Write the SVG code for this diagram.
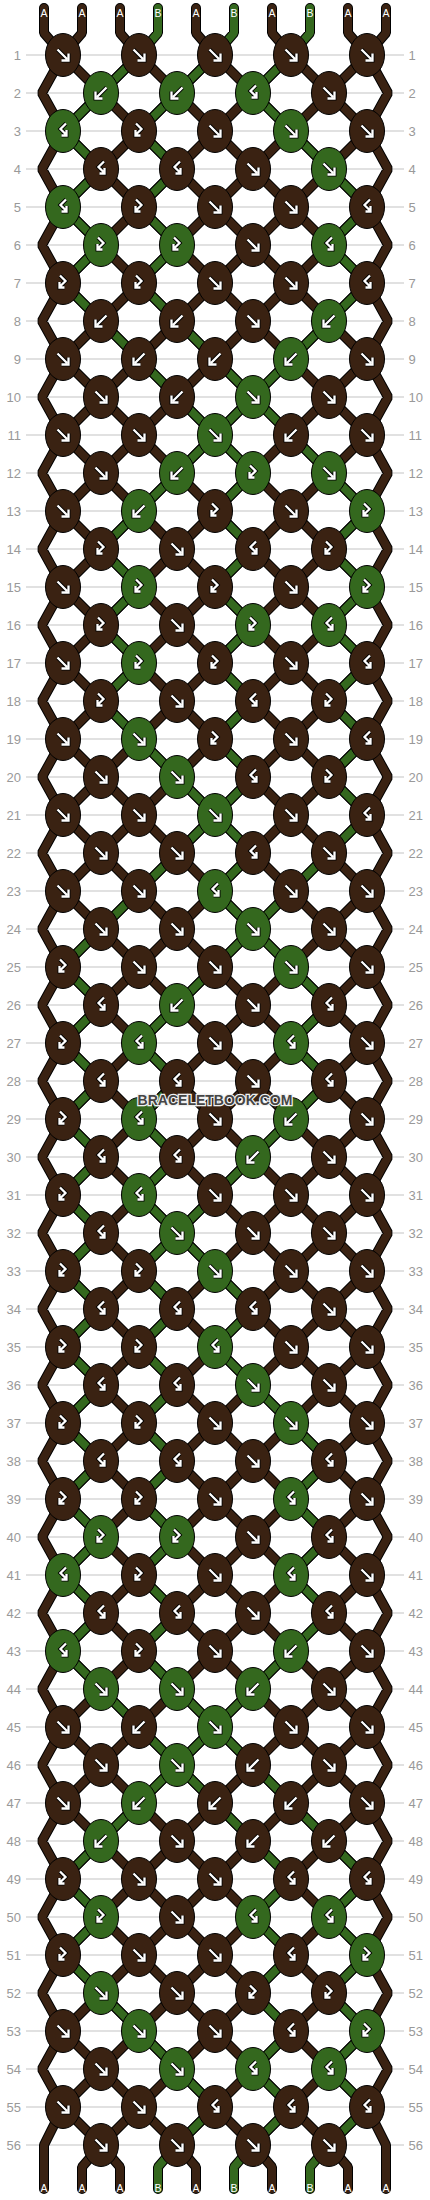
<svg xmlns="http://www.w3.org/2000/svg" width="430" height="2200" viewBox="0 0 430 2200">
<style>
.o{fill:none;stroke:#000;stroke-width:10;stroke-linejoin:bevel}
.a{fill:none;stroke:#3a2212;stroke-width:8;stroke-linejoin:bevel}
.g{fill:none;stroke:#34681e;stroke-width:8;stroke-linejoin:bevel}
.rc{stroke-linecap:round}
.ka{fill:#3a2212;stroke:#000;stroke-width:1}
.kb{fill:#34681e;stroke:#000;stroke-width:1}
.ao{fill:none;stroke:#000;stroke-width:4}
.ai{fill:none;stroke:#fff;stroke-width:2.3}
.rl{fill:none;stroke:#c4c4c4;stroke-width:1.2}
.nl,.nr{font-family:"Liberation Sans",Arial,sans-serif;font-size:13px;fill:#999}
.nl{text-anchor:end}
.lb{font-family:"Liberation Sans",Arial,sans-serif;font-size:10.5px;fill:#fff;text-anchor:middle}
.wm{font-family:"Liberation Sans",Arial,sans-serif;font-weight:bold;font-size:14px;fill:#454545;stroke:#f0f0f0;stroke-width:2.5;paint-order:stroke;text-anchor:middle}
</style>
<defs>
<clipPath id="clipD"><rect x="0" y="55" width="430" height="2090"/></clipPath>
<clipPath id="clipE"><rect x="0" y="55" width="430" height="2052"/></clipPath>
<ellipse id="ea" class="ka" rx="17.5" ry="21.5"/>
<ellipse id="eb" class="kb" rx="17.5" ry="21.5"/>
<path id="pF" d="M-5.5 -5.5L4 4M5.5 -1.5V5.5H-1.5"/>
<path id="pB" d="M5.5 -5.5L-4 4M-5.5 -1.5V5.5H1.5"/>
<path id="pf" d="M-3 -7.5L2.5 -2L-2.5 3M-3.5 -1V4.5H1.5"/>
<path id="pb" d="M3 -7.5L-2.5 -2L2.5 3M3.5 -1V4.5H-1.5"/>
<g id="aF"><use href="#ea"/><use href="#pF" class="ao"/><use href="#pF" class="ai"/></g>
<g id="aB"><use href="#ea"/><use href="#pB" class="ao"/><use href="#pB" class="ai"/></g>
<g id="af"><use href="#ea"/><use href="#pf" class="ao"/><use href="#pf" class="ai"/></g>
<g id="ab"><use href="#ea"/><use href="#pb" class="ao"/><use href="#pb" class="ai"/></g>
<g id="bF"><use href="#eb"/><use href="#pF" class="ao"/><use href="#pF" class="ai"/></g>
<g id="bB"><use href="#eb"/><use href="#pB" class="ao"/><use href="#pB" class="ai"/></g>
<g id="bf"><use href="#eb"/><use href="#pf" class="ao"/><use href="#pf" class="ai"/></g>
<g id="bb"><use href="#eb"/><use href="#pb" class="ao"/><use href="#pb" class="ai"/></g>
<path id="diag" d="M63 -249l304 304M63 -173l304 304M63 -97l304 304M63 -21l304 304M63 55l304 304M63 131l304 304M63 207l304 304M63 283l304 304M63 359l304 304M63 435l304 304M63 511l304 304M63 587l304 304M63 663l304 304M63 739l304 304M63 815l304 304M63 891l304 304M63 967l304 304M63 1043l304 304M63 1119l304 304M63 1195l304 304M63 1271l304 304M63 1347l304 304M63 1423l304 304M63 1499l304 304M63 1575l304 304M63 1651l304 304M63 1727l304 304M63 1803l304 304M63 1879l304 304M63 1955l304 304M63 2031l304 304M63 2107l304 304M367 -249l-304 304M367 -173l-304 304M367 -97l-304 304M367 -21l-304 304M367 55l-304 304M367 131l-304 304M367 207l-304 304M367 283l-304 304M367 359l-304 304M367 435l-304 304M367 511l-304 304M367 587l-304 304M367 663l-304 304M367 739l-304 304M367 815l-304 304M367 891l-304 304M367 967l-304 304M367 1043l-304 304M367 1119l-304 304M367 1195l-304 304M367 1271l-304 304M367 1347l-304 304M367 1423l-304 304M367 1499l-304 304M367 1575l-304 304M367 1651l-304 304M367 1727l-304 304M367 1803l-304 304M367 1879l-304 304M367 1955l-304 304M367 2031l-304 304M367 2107l-304 304"/>
<path id="edges" d="M63 55l-21 38 21 38 -21 38 21 38 -21 38 21 38 -21 38 21 38 -21 38 21 38 -21 38 21 38 -21 38 21 38 -21 38 21 38 -21 38 21 38 -21 38 21 38 -21 38 21 38 -21 38 21 38 -21 38 21 38 -21 38 21 38 -21 38 21 38 -21 38 21 38 -21 38 21 38 -21 38 21 38 -21 38 21 38 -21 38 21 38 -21 38 21 38 -21 38 21 38 -21 38 21 38 -21 38 21 38 -21 38 21 38 -21 38 21 38 -21 38 21 38 M367 55l21 38 -21 38 21 38 -21 38 21 38 -21 38 21 38 -21 38 21 38 -21 38 21 38 -21 38 21 38 -21 38 21 38 -21 38 21 38 -21 38 21 38 -21 38 21 38 -21 38 21 38 -21 38 21 38 -21 38 21 38 -21 38 21 38 -21 38 21 38 -21 38 21 38 -21 38 21 38 -21 38 21 38 -21 38 21 38 -21 38 21 38 -21 38 21 38 -21 38 21 38 -21 38 21 38 -21 38 21 38 -21 38 21 38 -21 38 21 38 -21 38"/>
<path id="endsA" d="M44 8V33L63 55M82 8V33L63 55M120 8V33L139 55M196 8V33L215 55M272 8V33L291 55M348 8V33L367 55M386 8V33L367 55M63 2107L44 2145V2189M101 2145L82 2167V2189M101 2145L120 2167V2189M177 2145L196 2167V2189M253 2145L272 2167V2189M329 2145L348 2167V2189M367 2107L386 2145V2189"/>
<path id="greens" d="M158 8V33L139 55l-38 38 -38 38 38 38 -38 38 38 38 -38 38 38 38 38 38 38 38 38 38 -38 38 -38 38 -38 38 38 38 -38 38 38 38 -38 38 38 38 38 38 38 38 -38 38 -38 38 -38 38 -38 38 38 38 -38 38 38 38 -38 38 38 38 -38 38 38 38 -38 38 38 38 -38 38 38 38 -38 38 38 38 -38 38 38 38 -38 38 38 38 -38 38 38 38 38 38 38 38 -38 38 -38 38 -38 38 38 38 -38 38 38 38 38 38 38 38 38 38 -38 38 l-19 22V2189 M234 8V33L215 55l-38 38 -38 38 38 38 -38 38 38 38 -38 38 38 38 38 38 38 38 -38 38 38 38 -38 38 38 38 -38 38 38 38 -38 38 38 38 -38 38 38 38 -38 38 38 38 -38 38 38 38 -38 38 -38 38 -38 38 38 38 -38 38 38 38 -38 38 38 38 -38 38 38 38 -38 38 38 38 -38 38 38 38 -38 38 38 38 -38 38 38 38 -38 38 38 38 38 38 -38 38 38 38 38 38 38 38 -38 38 38 38 -38 38 38 38 -38 38 38 38 -38 38 l-19 22V2189 M310 8V33L291 55l-38 38 38 38 38 38 38 38 -38 38 38 38 -38 38 -38 38 -38 38 38 38 38 38 38 38 -38 38 38 38 -38 38 38 38 -38 38 38 38 -38 38 38 38 -38 38 -38 38 -38 38 38 38 38 38 -38 38 38 38 -38 38 -38 38 -38 38 -38 38 38 38 38 38 -38 38 38 38 38 38 38 38 -38 38 38 38 -38 38 38 38 -38 38 -38 38 -38 38 38 38 38 38 38 38 38 38 -38 38 38 38 -38 38 38 38 -38 38 38 38 -38 38 l-19 22V2189"/>
</defs>
<path class="rl" d="M26 55H404M26 93H404M26 131H404M26 169H404M26 207H404M26 245H404M26 283H404M26 321H404M26 359H404M26 397H404M26 435H404M26 473H404M26 511H404M26 549H404M26 587H404M26 625H404M26 663H404M26 701H404M26 739H404M26 777H404M26 815H404M26 853H404M26 891H404M26 929H404M26 967H404M26 1005H404M26 1043H404M26 1081H404M26 1119H404M26 1157H404M26 1195H404M26 1233H404M26 1271H404M26 1309H404M26 1347H404M26 1385H404M26 1423H404M26 1461H404M26 1499H404M26 1537H404M26 1575H404M26 1613H404M26 1651H404M26 1689H404M26 1727H404M26 1765H404M26 1803H404M26 1841H404M26 1879H404M26 1917H404M26 1955H404M26 1993H404M26 2031H404M26 2069H404M26 2107H404M26 2145H404"/>
<g id="rownums">
<text class="nl" x="21" y="59.6">1</text><text class="nr" x="408.5" y="59.6">1</text>
<text class="nl" x="21" y="97.6">2</text><text class="nr" x="408.5" y="97.6">2</text>
<text class="nl" x="21" y="135.6">3</text><text class="nr" x="408.5" y="135.6">3</text>
<text class="nl" x="21" y="173.6">4</text><text class="nr" x="408.5" y="173.6">4</text>
<text class="nl" x="21" y="211.6">5</text><text class="nr" x="408.5" y="211.6">5</text>
<text class="nl" x="21" y="249.6">6</text><text class="nr" x="408.5" y="249.6">6</text>
<text class="nl" x="21" y="287.6">7</text><text class="nr" x="408.5" y="287.6">7</text>
<text class="nl" x="21" y="325.6">8</text><text class="nr" x="408.5" y="325.6">8</text>
<text class="nl" x="21" y="363.6">9</text><text class="nr" x="408.5" y="363.6">9</text>
<text class="nl" x="21" y="401.6">10</text><text class="nr" x="408.5" y="401.6">10</text>
<text class="nl" x="21" y="439.6">11</text><text class="nr" x="408.5" y="439.6">11</text>
<text class="nl" x="21" y="477.6">12</text><text class="nr" x="408.5" y="477.6">12</text>
<text class="nl" x="21" y="515.6">13</text><text class="nr" x="408.5" y="515.6">13</text>
<text class="nl" x="21" y="553.6">14</text><text class="nr" x="408.5" y="553.6">14</text>
<text class="nl" x="21" y="591.6">15</text><text class="nr" x="408.5" y="591.6">15</text>
<text class="nl" x="21" y="629.6">16</text><text class="nr" x="408.5" y="629.6">16</text>
<text class="nl" x="21" y="667.6">17</text><text class="nr" x="408.5" y="667.6">17</text>
<text class="nl" x="21" y="705.6">18</text><text class="nr" x="408.5" y="705.6">18</text>
<text class="nl" x="21" y="743.6">19</text><text class="nr" x="408.5" y="743.6">19</text>
<text class="nl" x="21" y="781.6">20</text><text class="nr" x="408.5" y="781.6">20</text>
<text class="nl" x="21" y="819.6">21</text><text class="nr" x="408.5" y="819.6">21</text>
<text class="nl" x="21" y="857.6">22</text><text class="nr" x="408.5" y="857.6">22</text>
<text class="nl" x="21" y="895.6">23</text><text class="nr" x="408.5" y="895.6">23</text>
<text class="nl" x="21" y="933.6">24</text><text class="nr" x="408.5" y="933.6">24</text>
<text class="nl" x="21" y="971.6">25</text><text class="nr" x="408.5" y="971.6">25</text>
<text class="nl" x="21" y="1009.6">26</text><text class="nr" x="408.5" y="1009.6">26</text>
<text class="nl" x="21" y="1047.6">27</text><text class="nr" x="408.5" y="1047.6">27</text>
<text class="nl" x="21" y="1085.6">28</text><text class="nr" x="408.5" y="1085.6">28</text>
<text class="nl" x="21" y="1123.6">29</text><text class="nr" x="408.5" y="1123.6">29</text>
<text class="nl" x="21" y="1161.6">30</text><text class="nr" x="408.5" y="1161.6">30</text>
<text class="nl" x="21" y="1199.6">31</text><text class="nr" x="408.5" y="1199.6">31</text>
<text class="nl" x="21" y="1237.6">32</text><text class="nr" x="408.5" y="1237.6">32</text>
<text class="nl" x="21" y="1275.6">33</text><text class="nr" x="408.5" y="1275.6">33</text>
<text class="nl" x="21" y="1313.6">34</text><text class="nr" x="408.5" y="1313.6">34</text>
<text class="nl" x="21" y="1351.6">35</text><text class="nr" x="408.5" y="1351.6">35</text>
<text class="nl" x="21" y="1389.6">36</text><text class="nr" x="408.5" y="1389.6">36</text>
<text class="nl" x="21" y="1427.6">37</text><text class="nr" x="408.5" y="1427.6">37</text>
<text class="nl" x="21" y="1465.6">38</text><text class="nr" x="408.5" y="1465.6">38</text>
<text class="nl" x="21" y="1503.6">39</text><text class="nr" x="408.5" y="1503.6">39</text>
<text class="nl" x="21" y="1541.6">40</text><text class="nr" x="408.5" y="1541.6">40</text>
<text class="nl" x="21" y="1579.6">41</text><text class="nr" x="408.5" y="1579.6">41</text>
<text class="nl" x="21" y="1617.6">42</text><text class="nr" x="408.5" y="1617.6">42</text>
<text class="nl" x="21" y="1655.6">43</text><text class="nr" x="408.5" y="1655.6">43</text>
<text class="nl" x="21" y="1693.6">44</text><text class="nr" x="408.5" y="1693.6">44</text>
<text class="nl" x="21" y="1731.6">45</text><text class="nr" x="408.5" y="1731.6">45</text>
<text class="nl" x="21" y="1769.6">46</text><text class="nr" x="408.5" y="1769.6">46</text>
<text class="nl" x="21" y="1807.6">47</text><text class="nr" x="408.5" y="1807.6">47</text>
<text class="nl" x="21" y="1845.6">48</text><text class="nr" x="408.5" y="1845.6">48</text>
<text class="nl" x="21" y="1883.6">49</text><text class="nr" x="408.5" y="1883.6">49</text>
<text class="nl" x="21" y="1921.6">50</text><text class="nr" x="408.5" y="1921.6">50</text>
<text class="nl" x="21" y="1959.6">51</text><text class="nr" x="408.5" y="1959.6">51</text>
<text class="nl" x="21" y="1997.6">52</text><text class="nr" x="408.5" y="1997.6">52</text>
<text class="nl" x="21" y="2035.6">53</text><text class="nr" x="408.5" y="2035.6">53</text>
<text class="nl" x="21" y="2073.6">54</text><text class="nr" x="408.5" y="2073.6">54</text>
<text class="nl" x="21" y="2111.6">55</text><text class="nr" x="408.5" y="2111.6">55</text>
<text class="nl" x="21" y="2149.6">56</text><text class="nr" x="408.5" y="2149.6">56</text>
</g>
<g id="connectors">
<g clip-path="url(#clipD)"><use href="#diag" class="o"/><use href="#diag" class="a"/></g>
<g clip-path="url(#clipE)"><use href="#edges" class="o"/><use href="#edges" class="a"/></g>
<use href="#endsA" class="o rc"/><use href="#endsA" class="a rc"/>
<use href="#greens" class="o rc"/><use href="#greens" class="g rc"/>
</g>
<g id="labels">
<text class="lb" x="44" y="17">A</text><text class="lb" x="82" y="17">A</text><text class="lb" x="120" y="17">A</text><text class="lb" x="158" y="17">B</text><text class="lb" x="196" y="17">A</text><text class="lb" x="234" y="17">B</text><text class="lb" x="272" y="17">A</text><text class="lb" x="310" y="17">B</text><text class="lb" x="348" y="17">A</text><text class="lb" x="386" y="17">A</text>
<text class="lb" x="44" y="2192">A</text><text class="lb" x="82" y="2192">A</text><text class="lb" x="120" y="2192">A</text><text class="lb" x="158" y="2192">B</text><text class="lb" x="196" y="2192">A</text><text class="lb" x="234" y="2192">B</text><text class="lb" x="272" y="2192">A</text><text class="lb" x="310" y="2192">B</text><text class="lb" x="348" y="2192">A</text><text class="lb" x="386" y="2192">A</text>
</g>
<g id="knots">
<g transform="translate(0 55)"><g id="k1-1"><use href="#aF" x="63"/></g><g id="k1-2"><use href="#aF" x="139"/></g><g id="k1-3"><use href="#aF" x="215"/></g><g id="k1-4"><use href="#aF" x="291"/></g><g id="k1-5"><use href="#aF" x="367"/></g></g>
<g transform="translate(0 93)"><g id="k2-1"><use href="#bB" x="101"/></g><g id="k2-2"><use href="#bB" x="177"/></g><g id="k2-3"><use href="#bb" x="253"/></g><g id="k2-4"><use href="#aF" x="329"/></g></g>
<g transform="translate(0 131)"><g id="k3-1"><use href="#bb" x="63"/></g><g id="k3-2"><use href="#af" x="139"/></g><g id="k3-3"><use href="#aF" x="215"/></g><g id="k3-4"><use href="#bF" x="291"/></g><g id="k3-5"><use href="#aF" x="367"/></g></g>
<g transform="translate(0 169)"><g id="k4-1"><use href="#ab" x="101"/></g><g id="k4-2"><use href="#ab" x="177"/></g><g id="k4-3"><use href="#aF" x="253"/></g><g id="k4-4"><use href="#bF" x="329"/></g></g>
<g transform="translate(0 207)"><g id="k5-1"><use href="#bb" x="63"/></g><g id="k5-2"><use href="#af" x="139"/></g><g id="k5-3"><use href="#aF" x="215"/></g><g id="k5-4"><use href="#aF" x="291"/></g><g id="k5-5"><use href="#ab" x="367"/></g></g>
<g transform="translate(0 245)"><g id="k6-1"><use href="#bf" x="101"/></g><g id="k6-2"><use href="#bf" x="177"/></g><g id="k6-3"><use href="#aF" x="253"/></g><g id="k6-4"><use href="#bb" x="329"/></g></g>
<g transform="translate(0 283)"><g id="k7-1"><use href="#af" x="63"/></g><g id="k7-2"><use href="#af" x="139"/></g><g id="k7-3"><use href="#aF" x="215"/></g><g id="k7-4"><use href="#aF" x="291"/></g><g id="k7-5"><use href="#ab" x="367"/></g></g>
<g transform="translate(0 321)"><g id="k8-1"><use href="#aB" x="101"/></g><g id="k8-2"><use href="#aB" x="177"/></g><g id="k8-3"><use href="#aF" x="253"/></g><g id="k8-4"><use href="#bB" x="329"/></g></g>
<g transform="translate(0 359)"><g id="k9-1"><use href="#aF" x="63"/></g><g id="k9-2"><use href="#aB" x="139"/></g><g id="k9-3"><use href="#aB" x="215"/></g><g id="k9-4"><use href="#bB" x="291"/></g><g id="k9-5"><use href="#aF" x="367"/></g></g>
<g transform="translate(0 397)"><g id="k10-1"><use href="#aF" x="101"/></g><g id="k10-2"><use href="#aB" x="177"/></g><g id="k10-3"><use href="#bF" x="253"/></g><g id="k10-4"><use href="#aF" x="329"/></g></g>
<g transform="translate(0 435)"><g id="k11-1"><use href="#aF" x="63"/></g><g id="k11-2"><use href="#aF" x="139"/></g><g id="k11-3"><use href="#bF" x="215"/></g><g id="k11-4"><use href="#aB" x="291"/></g><g id="k11-5"><use href="#aF" x="367"/></g></g>
<g transform="translate(0 473)"><g id="k12-1"><use href="#aF" x="101"/></g><g id="k12-2"><use href="#bB" x="177"/></g><g id="k12-3"><use href="#bf" x="253"/></g><g id="k12-4"><use href="#bF" x="329"/></g></g>
<g transform="translate(0 511)"><g id="k13-1"><use href="#aF" x="63"/></g><g id="k13-2"><use href="#bB" x="139"/></g><g id="k13-3"><use href="#af" x="215"/></g><g id="k13-4"><use href="#aF" x="291"/></g><g id="k13-5"><use href="#bf" x="367"/></g></g>
<g transform="translate(0 549)"><g id="k14-1"><use href="#af" x="101"/></g><g id="k14-2"><use href="#aF" x="177"/></g><g id="k14-3"><use href="#ab" x="253"/></g><g id="k14-4"><use href="#af" x="329"/></g></g>
<g transform="translate(0 587)"><g id="k15-1"><use href="#aF" x="63"/></g><g id="k15-2"><use href="#bf" x="139"/></g><g id="k15-3"><use href="#af" x="215"/></g><g id="k15-4"><use href="#aF" x="291"/></g><g id="k15-5"><use href="#bf" x="367"/></g></g>
<g transform="translate(0 625)"><g id="k16-1"><use href="#af" x="101"/></g><g id="k16-2"><use href="#aF" x="177"/></g><g id="k16-3"><use href="#bf" x="253"/></g><g id="k16-4"><use href="#bb" x="329"/></g></g>
<g transform="translate(0 663)"><g id="k17-1"><use href="#aF" x="63"/></g><g id="k17-2"><use href="#bf" x="139"/></g><g id="k17-3"><use href="#af" x="215"/></g><g id="k17-4"><use href="#aF" x="291"/></g><g id="k17-5"><use href="#ab" x="367"/></g></g>
<g transform="translate(0 701)"><g id="k18-1"><use href="#af" x="101"/></g><g id="k18-2"><use href="#aF" x="177"/></g><g id="k18-3"><use href="#ab" x="253"/></g><g id="k18-4"><use href="#af" x="329"/></g></g>
<g transform="translate(0 739)"><g id="k19-1"><use href="#aF" x="63"/></g><g id="k19-2"><use href="#bF" x="139"/></g><g id="k19-3"><use href="#af" x="215"/></g><g id="k19-4"><use href="#aF" x="291"/></g><g id="k19-5"><use href="#ab" x="367"/></g></g>
<g transform="translate(0 777)"><g id="k20-1"><use href="#aF" x="101"/></g><g id="k20-2"><use href="#bF" x="177"/></g><g id="k20-3"><use href="#ab" x="253"/></g><g id="k20-4"><use href="#af" x="329"/></g></g>
<g transform="translate(0 815)"><g id="k21-1"><use href="#aF" x="63"/></g><g id="k21-2"><use href="#aF" x="139"/></g><g id="k21-3"><use href="#bF" x="215"/></g><g id="k21-4"><use href="#aF" x="291"/></g><g id="k21-5"><use href="#ab" x="367"/></g></g>
<g transform="translate(0 853)"><g id="k22-1"><use href="#aF" x="101"/></g><g id="k22-2"><use href="#aF" x="177"/></g><g id="k22-3"><use href="#ab" x="253"/></g><g id="k22-4"><use href="#aF" x="329"/></g></g>
<g transform="translate(0 891)"><g id="k23-1"><use href="#aF" x="63"/></g><g id="k23-2"><use href="#aF" x="139"/></g><g id="k23-3"><use href="#bb" x="215"/></g><g id="k23-4"><use href="#aF" x="291"/></g><g id="k23-5"><use href="#aF" x="367"/></g></g>
<g transform="translate(0 929)"><g id="k24-1"><use href="#aF" x="101"/></g><g id="k24-2"><use href="#aF" x="177"/></g><g id="k24-3"><use href="#bF" x="253"/></g><g id="k24-4"><use href="#aF" x="329"/></g></g>
<g transform="translate(0 967)"><g id="k25-1"><use href="#af" x="63"/></g><g id="k25-2"><use href="#aF" x="139"/></g><g id="k25-3"><use href="#aF" x="215"/></g><g id="k25-4"><use href="#bF" x="291"/></g><g id="k25-5"><use href="#aF" x="367"/></g></g>
<g transform="translate(0 1005)"><g id="k26-1"><use href="#ab" x="101"/></g><g id="k26-2"><use href="#bB" x="177"/></g><g id="k26-3"><use href="#aF" x="253"/></g><g id="k26-4"><use href="#ab" x="329"/></g></g>
<g transform="translate(0 1043)"><g id="k27-1"><use href="#af" x="63"/></g><g id="k27-2"><use href="#bb" x="139"/></g><g id="k27-3"><use href="#aF" x="215"/></g><g id="k27-4"><use href="#bb" x="291"/></g><g id="k27-5"><use href="#aF" x="367"/></g></g>
<g transform="translate(0 1081)"><g id="k28-1"><use href="#ab" x="101"/></g><g id="k28-2"><use href="#ab" x="177"/></g><g id="k28-3"><use href="#aF" x="253"/></g><g id="k28-4"><use href="#ab" x="329"/></g></g>
<g transform="translate(0 1119)"><g id="k29-1"><use href="#af" x="63"/></g><g id="k29-2"><use href="#bb" x="139"/></g><g id="k29-3"><use href="#aF" x="215"/></g><g id="k29-4"><use href="#bB" x="291"/></g><g id="k29-5"><use href="#aF" x="367"/></g></g>
<g transform="translate(0 1157)"><g id="k30-1"><use href="#ab" x="101"/></g><g id="k30-2"><use href="#ab" x="177"/></g><g id="k30-3"><use href="#bB" x="253"/></g><g id="k30-4"><use href="#aF" x="329"/></g></g>
<g transform="translate(0 1195)"><g id="k31-1"><use href="#af" x="63"/></g><g id="k31-2"><use href="#bb" x="139"/></g><g id="k31-3"><use href="#aF" x="215"/></g><g id="k31-4"><use href="#aF" x="291"/></g><g id="k31-5"><use href="#aF" x="367"/></g></g>
<g transform="translate(0 1233)"><g id="k32-1"><use href="#ab" x="101"/></g><g id="k32-2"><use href="#bF" x="177"/></g><g id="k32-3"><use href="#aF" x="253"/></g><g id="k32-4"><use href="#aF" x="329"/></g></g>
<g transform="translate(0 1271)"><g id="k33-1"><use href="#af" x="63"/></g><g id="k33-2"><use href="#af" x="139"/></g><g id="k33-3"><use href="#bF" x="215"/></g><g id="k33-4"><use href="#aF" x="291"/></g><g id="k33-5"><use href="#aF" x="367"/></g></g>
<g transform="translate(0 1309)"><g id="k34-1"><use href="#ab" x="101"/></g><g id="k34-2"><use href="#ab" x="177"/></g><g id="k34-3"><use href="#ab" x="253"/></g><g id="k34-4"><use href="#aF" x="329"/></g></g>
<g transform="translate(0 1347)"><g id="k35-1"><use href="#af" x="63"/></g><g id="k35-2"><use href="#af" x="139"/></g><g id="k35-3"><use href="#bb" x="215"/></g><g id="k35-4"><use href="#aF" x="291"/></g><g id="k35-5"><use href="#aF" x="367"/></g></g>
<g transform="translate(0 1385)"><g id="k36-1"><use href="#ab" x="101"/></g><g id="k36-2"><use href="#ab" x="177"/></g><g id="k36-3"><use href="#bF" x="253"/></g><g id="k36-4"><use href="#aF" x="329"/></g></g>
<g transform="translate(0 1423)"><g id="k37-1"><use href="#af" x="63"/></g><g id="k37-2"><use href="#af" x="139"/></g><g id="k37-3"><use href="#aF" x="215"/></g><g id="k37-4"><use href="#bF" x="291"/></g><g id="k37-5"><use href="#aF" x="367"/></g></g>
<g transform="translate(0 1461)"><g id="k38-1"><use href="#ab" x="101"/></g><g id="k38-2"><use href="#ab" x="177"/></g><g id="k38-3"><use href="#aF" x="253"/></g><g id="k38-4"><use href="#ab" x="329"/></g></g>
<g transform="translate(0 1499)"><g id="k39-1"><use href="#af" x="63"/></g><g id="k39-2"><use href="#af" x="139"/></g><g id="k39-3"><use href="#aF" x="215"/></g><g id="k39-4"><use href="#bb" x="291"/></g><g id="k39-5"><use href="#aF" x="367"/></g></g>
<g transform="translate(0 1537)"><g id="k40-1"><use href="#bf" x="101"/></g><g id="k40-2"><use href="#bf" x="177"/></g><g id="k40-3"><use href="#aF" x="253"/></g><g id="k40-4"><use href="#ab" x="329"/></g></g>
<g transform="translate(0 1575)"><g id="k41-1"><use href="#bb" x="63"/></g><g id="k41-2"><use href="#af" x="139"/></g><g id="k41-3"><use href="#aF" x="215"/></g><g id="k41-4"><use href="#bb" x="291"/></g><g id="k41-5"><use href="#aF" x="367"/></g></g>
<g transform="translate(0 1613)"><g id="k42-1"><use href="#ab" x="101"/></g><g id="k42-2"><use href="#ab" x="177"/></g><g id="k42-3"><use href="#aF" x="253"/></g><g id="k42-4"><use href="#ab" x="329"/></g></g>
<g transform="translate(0 1651)"><g id="k43-1"><use href="#bb" x="63"/></g><g id="k43-2"><use href="#af" x="139"/></g><g id="k43-3"><use href="#aF" x="215"/></g><g id="k43-4"><use href="#bB" x="291"/></g><g id="k43-5"><use href="#aF" x="367"/></g></g>
<g transform="translate(0 1689)"><g id="k44-1"><use href="#bF" x="101"/></g><g id="k44-2"><use href="#bF" x="177"/></g><g id="k44-3"><use href="#bB" x="253"/></g><g id="k44-4"><use href="#aF" x="329"/></g></g>
<g transform="translate(0 1727)"><g id="k45-1"><use href="#aF" x="63"/></g><g id="k45-2"><use href="#aB" x="139"/></g><g id="k45-3"><use href="#bF" x="215"/></g><g id="k45-4"><use href="#aF" x="291"/></g><g id="k45-5"><use href="#aF" x="367"/></g></g>
<g transform="translate(0 1765)"><g id="k46-1"><use href="#aF" x="101"/></g><g id="k46-2"><use href="#bF" x="177"/></g><g id="k46-3"><use href="#aB" x="253"/></g><g id="k46-4"><use href="#aF" x="329"/></g></g>
<g transform="translate(0 1803)"><g id="k47-1"><use href="#aF" x="63"/></g><g id="k47-2"><use href="#bB" x="139"/></g><g id="k47-3"><use href="#aB" x="215"/></g><g id="k47-4"><use href="#aB" x="291"/></g><g id="k47-5"><use href="#aF" x="367"/></g></g>
<g transform="translate(0 1841)"><g id="k48-1"><use href="#bB" x="101"/></g><g id="k48-2"><use href="#aF" x="177"/></g><g id="k48-3"><use href="#aB" x="253"/></g><g id="k48-4"><use href="#aB" x="329"/></g></g>
<g transform="translate(0 1879)"><g id="k49-1"><use href="#af" x="63"/></g><g id="k49-2"><use href="#aF" x="139"/></g><g id="k49-3"><use href="#aF" x="215"/></g><g id="k49-4"><use href="#ab" x="291"/></g><g id="k49-5"><use href="#ab" x="367"/></g></g>
<g transform="translate(0 1917)"><g id="k50-1"><use href="#bf" x="101"/></g><g id="k50-2"><use href="#aF" x="177"/></g><g id="k50-3"><use href="#bb" x="253"/></g><g id="k50-4"><use href="#bb" x="329"/></g></g>
<g transform="translate(0 1955)"><g id="k51-1"><use href="#af" x="63"/></g><g id="k51-2"><use href="#aF" x="139"/></g><g id="k51-3"><use href="#aF" x="215"/></g><g id="k51-4"><use href="#ab" x="291"/></g><g id="k51-5"><use href="#bf" x="367"/></g></g>
<g transform="translate(0 1993)"><g id="k52-1"><use href="#bF" x="101"/></g><g id="k52-2"><use href="#aF" x="177"/></g><g id="k52-3"><use href="#af" x="253"/></g><g id="k52-4"><use href="#af" x="329"/></g></g>
<g transform="translate(0 2031)"><g id="k53-1"><use href="#aF" x="63"/></g><g id="k53-2"><use href="#bF" x="139"/></g><g id="k53-3"><use href="#aF" x="215"/></g><g id="k53-4"><use href="#ab" x="291"/></g><g id="k53-5"><use href="#bf" x="367"/></g></g>
<g transform="translate(0 2069)"><g id="k54-1"><use href="#aF" x="101"/></g><g id="k54-2"><use href="#bF" x="177"/></g><g id="k54-3"><use href="#bb" x="253"/></g><g id="k54-4"><use href="#bb" x="329"/></g></g>
<g transform="translate(0 2107)"><g id="k55-1"><use href="#aF" x="63"/></g><g id="k55-2"><use href="#aF" x="139"/></g><g id="k55-3"><use href="#ab" x="215"/></g><g id="k55-4"><use href="#ab" x="291"/></g><g id="k55-5"><use href="#ab" x="367"/></g></g>
<g transform="translate(0 2145)"><g id="k56-1"><use href="#aF" x="101"/></g><g id="k56-2"><use href="#aF" x="177"/></g><g id="k56-3"><use href="#aF" x="253"/></g><g id="k56-4"><use href="#aF" x="329"/></g></g>
</g>
<text class="wm" x="215" y="1105">BRACELETBOOK.COM</text>
</svg>
